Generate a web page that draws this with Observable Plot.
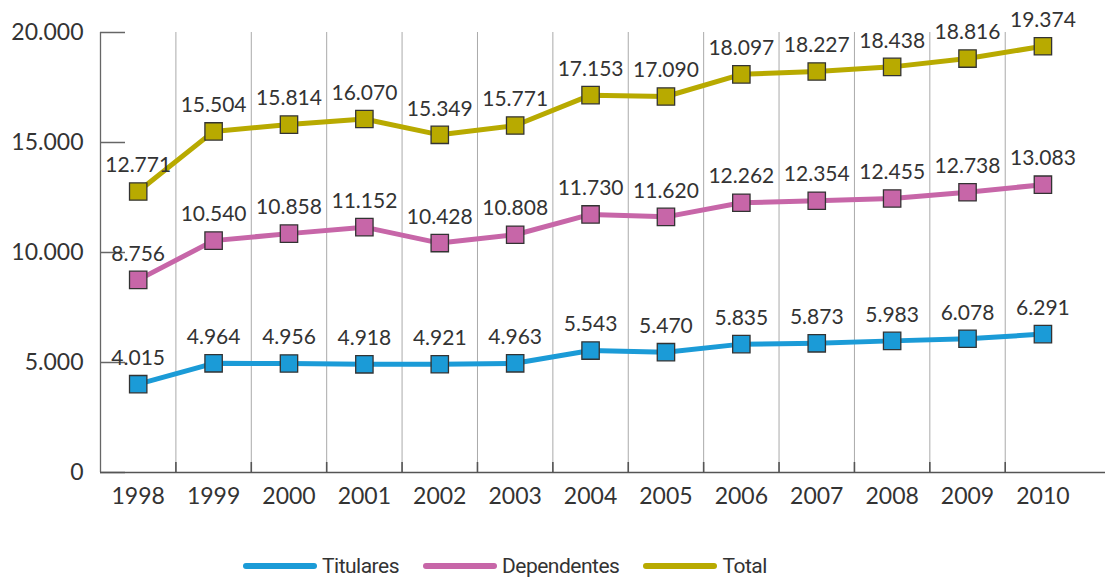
<!DOCTYPE html>
<html><head><meta charset="utf-8">
<script src="https://cdn.jsdelivr.net/npm/d3@7"></script>
<script src="https://cdn.jsdelivr.net/npm/@observablehq/plot@0.6"></script>
<style>
body{margin:0;background:#fff;font-family:Lato,"Open Sans",sans-serif;}
#legend{display:flex;align-items:center;height:28px;margin-top:7px;padding-left:243px;font-family:Roboto,sans-serif;font-size:21px;letter-spacing:-0.5px;color:#333;}
.item{display:flex;align-items:center;margin-right:24px;}
.item svg{margin-right:5px;}
</style></head><body><div id="chart"></div><div id="legend"></div>
<script>
const years = [1998,1999,2000,2001,2002,2003,2004,2005,2006,2007,2008,2009,2010];
const titulares = [4015,4964,4956,4918,4921,4963,5543,5470,5835,5873,5983,6078,6291];
const dependentes = [8756,10540,10858,11152,10428,10808,11730,11620,12262,12354,12455,12738,13083];
const total = [12771,15504,15814,16070,15349,15771,17153,17090,18097,18227,18438,18816,19374];
const seriesNames = ["Titulares","Dependentes","Total"];
const seriesColors = ["#1b9bd7","#c766a8","#b8aa00"];
const yTicks = [0,5000,10000,15000,20000];

const fmt = d => d3.format(",")(d).replace(/,/g,".");
const data = [];
[titulares, dependentes, total].forEach((arr,i)=>arr.forEach((v,j)=>data.push({series: seriesNames[i], year: years[j], value: v})));
const bounds = years.slice(0,-1).map(y=>y+0.5);

const W = 1109, H = 545, mL = 100, mR = 4, mT = 32, mB = 73;
const xDomain = [1997.5, 2010.83], yDomain = [0, 20000];
const pxPerYear = (W - mL - mR) / (xDomain[1] - xDomain[0]);
const pxPerUnit = (H - mT - mB) / (yDomain[1] - yDomain[0]);
const yTickLen = 25 / pxPerYear;   // 25px tick inside the frame
const xTickLen = 10 / pxPerUnit;   // 10px tick above the baseline

const plot = Plot.plot({
  width:W, height:H, marginLeft:mL, marginRight:mR, marginTop:mT, marginBottom:mB,
  x:{type:"linear", domain:xDomain},
  y:{domain:yDomain},
  color:{domain:seriesNames, range:seriesColors},
  style:{fontFamily:"Lato, sans-serif", color:"#333", background:"#fff"},
  marks:[
    Plot.ruleX(bounds, {stroke:"#aaa", strokeWidth:1}),
    Plot.ruleX(bounds, {y1:0, y2:xTickLen, stroke:"#555", strokeWidth:1.6}),
    Plot.ruleY(yTicks, {x1:xDomain[0], x2:xDomain[0] + yTickLen, stroke:"#666", strokeWidth:1.5}),
    Plot.axisX({ticks: years, tickSize:0, tickPadding:15, tickFormat:d=>String(d), fontSize:23, label:null}),
    Plot.axisY({ticks: yTicks, tickSize:0, tickPadding:17, tickFormat:fmt, fontSize:23, label:null}),
    Plot.ruleX([xDomain[0]], {stroke:"#666", strokeWidth:1.3}),
    Plot.ruleY([0], {stroke:"#555", strokeWidth:1.5}),
    Plot.line(data, {x:"year", y:"value", z:"series", stroke:"series", strokeWidth:5}),
    Plot.dot(data, {x:"year", y:"value", fill:"series", symbol:"square", r:9.8, stroke:"#333", strokeWidth:1.3}),
    Plot.text(data, {x:"year", y:"value", text:d=>fmt(d.value), dy:-26, fontSize:21, fill:"#333"})
  ]
});
document.getElementById("chart").appendChild(plot);

const legend = document.getElementById("legend");
seriesNames.forEach((name,i)=>{
  const item = document.createElement("div");
  item.className = "item";
  item.innerHTML = `<svg width="74" height="10"><line x1="3" y1="5" x2="71" y2="5" stroke="${seriesColors[i]}" stroke-width="6" stroke-linecap="round"/></svg><span>${name}</span>`;
  legend.appendChild(item);
});
</script></body></html>
